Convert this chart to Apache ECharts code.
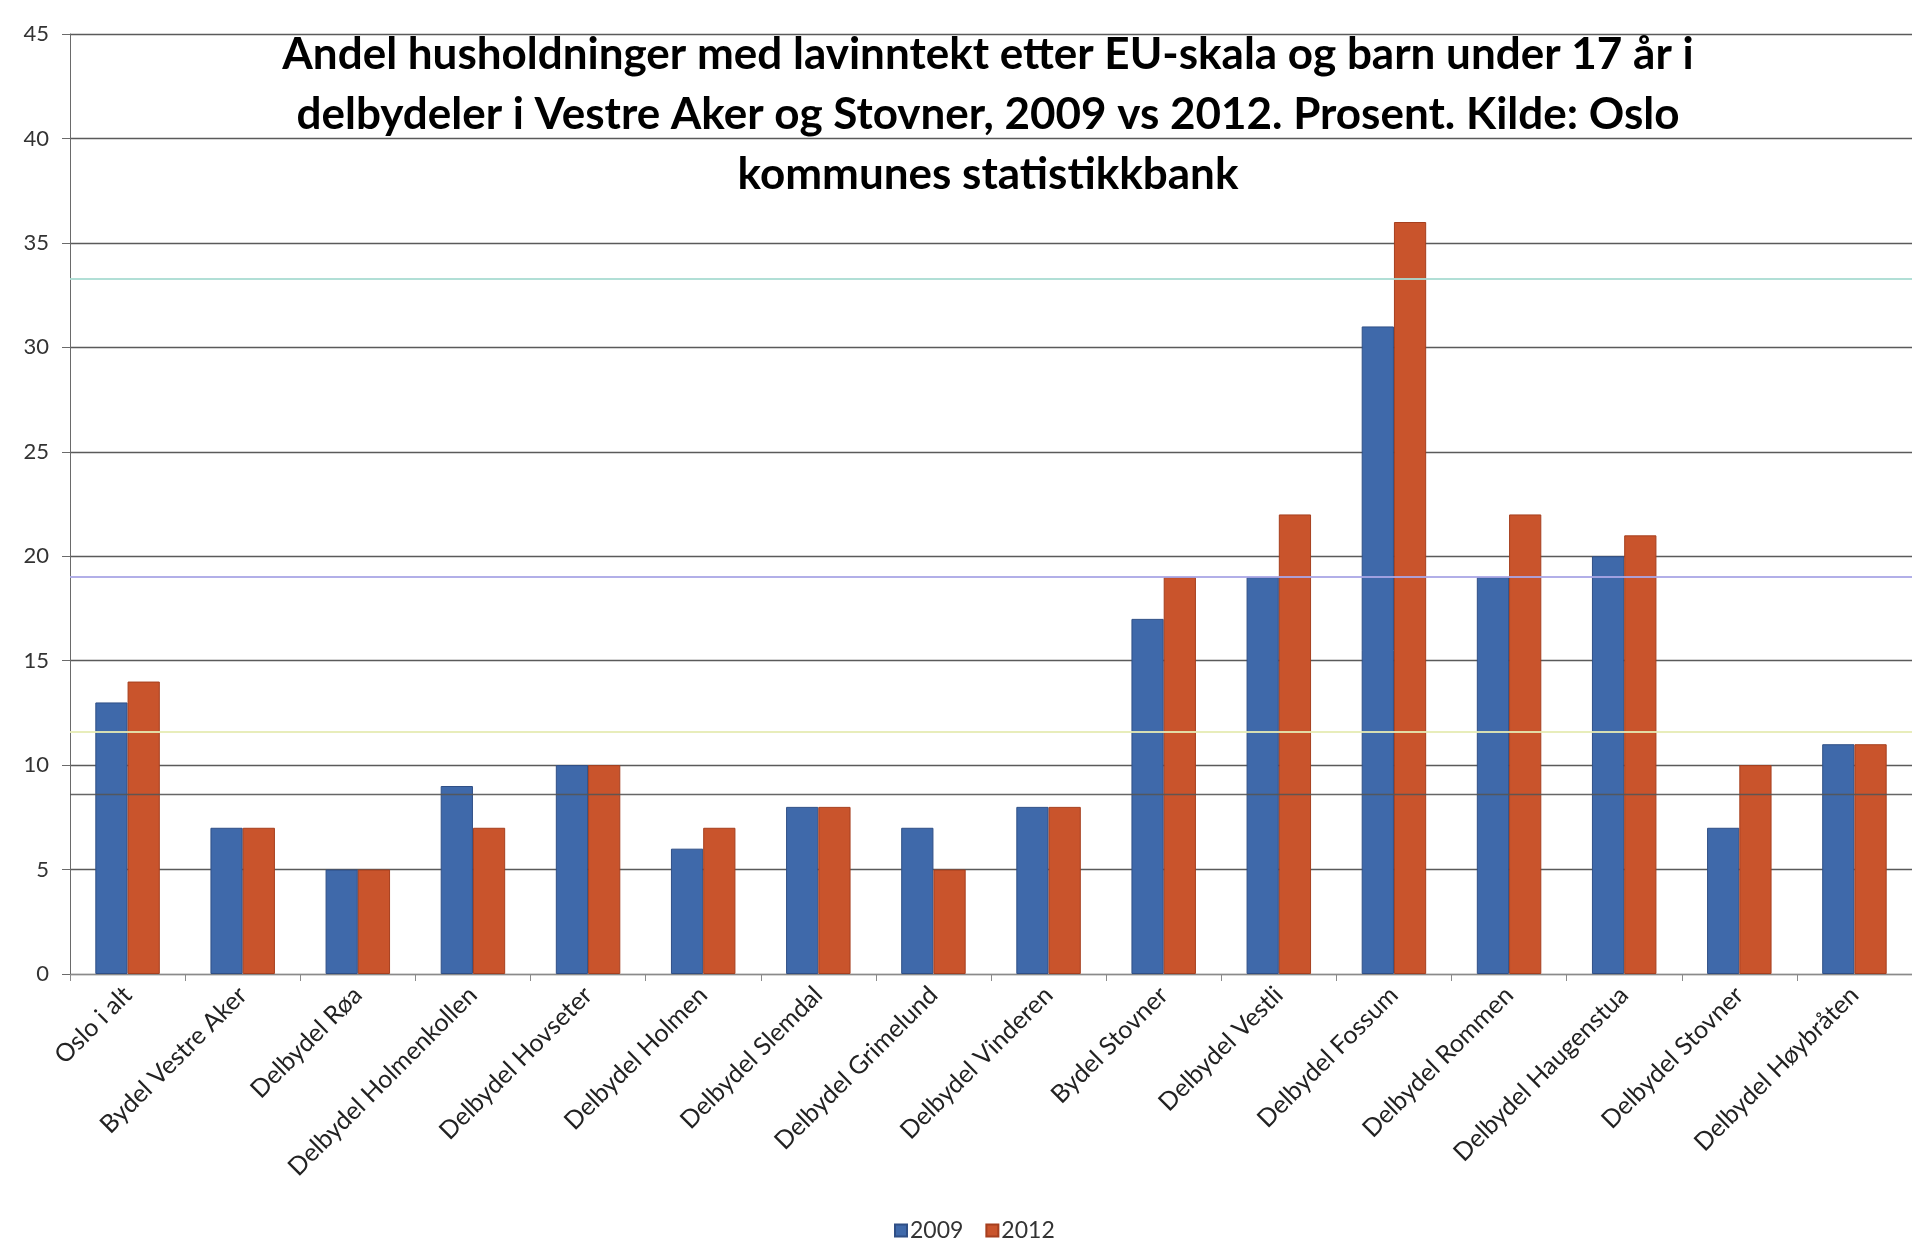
<!DOCTYPE html>
<html>
<head>
<meta charset="utf-8">
<script src="https://cdn.jsdelivr.net/npm/echarts@6/dist/echarts.min.js"></script>
<style>
html,body{margin:0;padding:0;background:#fff;}
#chart{width:1912px;height:1245px;}
</style>
</head>
<body>
<div id="chart"></div>
<script>
const titleText = 'Andel husholdninger med lavinntekt etter EU-skala og barn under 17 år i\ndelbydeler i Vestre Aker og Stovner, 2009 vs 2012. Prosent. Kilde: Oslo\nkommunes statistikkbank';
const categories = ['Oslo i alt','Bydel Vestre Aker','Delbydel Røa','Delbydel Holmenkollen','Delbydel Hovseter','Delbydel Holmen','Delbydel Slemdal','Delbydel Grimelund','Delbydel Vinderen','Bydel Stovner','Delbydel Vestli','Delbydel Fossum','Delbydel Rommen','Delbydel Haugenstua','Delbydel Stovner','Delbydel Høybråten'];
const seriesNames = ['2009','2012'];
const values2009 = [13, 7, 5, 9, 10, 6, 8, 7, 8, 17, 19, 31, 19, 20, 7, 11];
const values2012 = [14, 7, 5, 7, 10, 7, 8, 5, 8, 19, 22, 36, 22, 21, 10, 11];
const yMin = 0, yMax = 45, yStep = 5;
// faint horizontal scan streaks visible across the reference (value positions)
const scanLines = [33.3, 19.0, 11.6, 8.6];
const scanColors = ['#a8dcd2', '#aaa6e6', '#e6ebb4', '#555555'];

const chart = echarts.init(document.getElementById('chart'), null, {renderer:'canvas'});
const FONT = 'Lato, "Open Sans", sans-serif';
chart.setOption({
  backgroundColor:'#ffffff',
  animation:false,
  title:{
    text:titleText,
    left:983, top:20, textAlign:'center',
    textStyle:{fontFamily:FONT, fontWeight:'bold', fontSize:44, lineHeight:60, color:'#000'}
  },
  legend:{
    data:seriesNames,
    left:889, bottom:-2,
    itemWidth:12, itemHeight:12, itemGap:22,
    icon:'rect',
    textStyle:{fontFamily:FONT, fontSize:23, color:'#333', padding:[0,0,0,-2]}
  },
  grid:{left:70, right:-8, top:34, bottom:271, containLabel:false},
  xAxis:{
    type:'category', data:categories,
    axisLine:{show:true, lineStyle:{color:'#8a8a8a', width:1}},
    axisTick:{show:true, length:7, lineStyle:{color:'#8a8a8a'}},
    axisLabel:{rotate:45, interval:0, margin:17, fontFamily:FONT, fontSize:25, color:'#222'}
  },
  yAxis:{
    type:'value', min:yMin, max:yMax, interval:yStep,
    axisLine:{show:true, lineStyle:{color:'#6a6a6a', width:1}},
    axisTick:{show:true, length:8, lineStyle:{color:'#6a6a6a'}},
    axisLabel:{margin:21, fontFamily:FONT, fontSize:22, color:'#333'},
    splitLine:{show:true, lineStyle:{color:'#5a5a5a', width:1.3}}
  },
  series:[
    {name:seriesNames[0], type:'bar', data:values2009, barGap:'0%', barCategoryGap:'44%',
     itemStyle:{color:'#3f69aa', borderColor:'#2f4f86', borderWidth:1},
     markLine:{silent:true, symbol:'none', label:{show:false},
       data:scanLines.map((v,i)=>({yAxis:v, lineStyle:{color:scanColors[i], width:i===3?1.3:2, type:'solid', opacity:0.9}}))}
    },
    {name:seriesNames[1], type:'bar', data:values2012,
     itemStyle:{color:'#c9542c', borderColor:'#a63f1e', borderWidth:1}}
  ]
});
</script>
</body>
</html>
